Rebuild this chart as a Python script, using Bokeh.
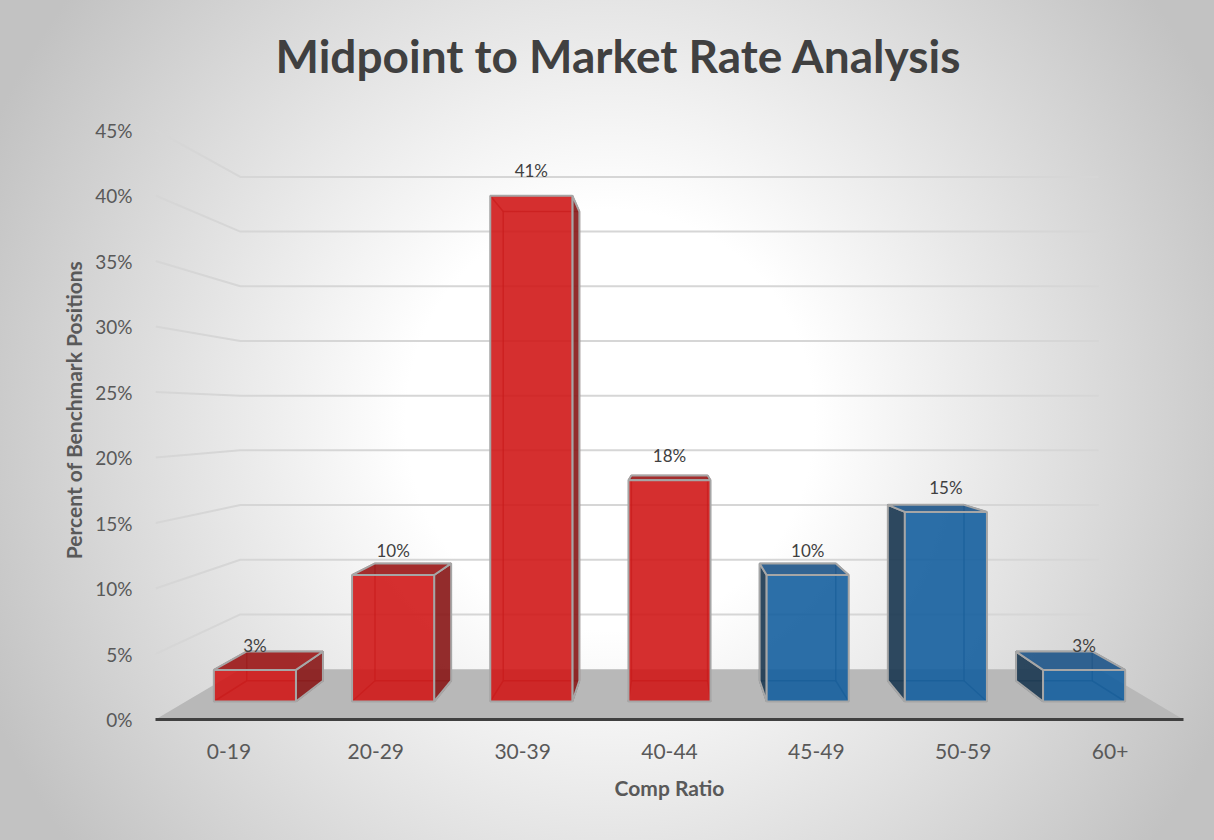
from bokeh.plotting import figure
from bokeh.models import FactorRange, Range1d, FixedTicker, ColumnDataSource
from bokeh.core.properties import value
from bokeh.embed import file_html
from bokeh.resources import INLINE

# ---------------- data ----------------
categories = ["0-19", "20-29", "30-39", "40-44", "45-49", "50-59", "60+"]
percent_values = [2.56, 10.26, 41.03, 17.95, 10.26, 15.38, 2.56]
value_labels = ["3%", "10%", "41%", "18%", "10%", "15%", "3%"]
groups = ["below", "below", "below", "below", "above", "above", "above"]
y_ticks = [0, 5, 10, 15, 20, 25, 30, 35, 40, 45]
title_text = "Midpoint to Market Rate Analysis"
x_title = "Comp Ratio"
y_title = "Percent of Benchmark Positions"

# ---------------- styles ----------------
FONT = "Lato"
face_style = {
    "below": {"front": "#d01818", "side": "#8a1a1a", "top": "#9c1a1a", "edge": "#6a1010"},
    "above": {"front": "#155f9e", "side": "#1c3a52", "top": "#21578a", "edge": "#10304a"},
}

# ---------------- layout / perspective ----------------
FRAME_TOP, FRAME_BOTTOM, TICK_TOP_PX = 100, 719, 129.5
Y_END = max(y_ticks) * (FRAME_BOTTOM - FRAME_TOP) / (FRAME_BOTTOM - TICK_TOP_PX)

N = len(categories)
VX = N / 2.0      # vanishing point x (category units)
VY = 23.3         # vanishing point y (percent units, eye level)
K = 0.1976        # depth foreshortening
BAR_W = 0.594
Z0, Z1 = 0.317, 0.736


def proj(x, y, z):
    s = 1.0 / (1.0 + K * z)
    return VX + (x - VX) * s, VY + (y - VY) * s


def poly(pts):
    xs, ys = [], []
    for (x, y, z) in pts:
        px, py = proj(x, y, z)
        xs.append(px)
        ys.append(py)
    return xs, ys


p = figure(
    width=1214, height=840,
    x_range=FactorRange(*categories, range_padding=0),
    y_range=Range1d(0, Y_END),
    output_backend="svg", toolbar_location=None,
    min_border_left=155, min_border_right=31, min_border_top=FRAME_TOP,
    min_border_bottom=840 - FRAME_BOTTOM,
)
p.styles = {"background": "radial-gradient(680px 700px at 610px 420px, #ffffff 0%, #ffffff 30%, #c2c2c2 100%)"}
p.border_fill_color = None
p.background_fill_color = None
p.outline_line_color = None
p.xgrid.visible = False
p.ygrid.visible = False

# floor
fx, fy = poly([(0, 0, 0), (N, 0, 0), (N, 0, 1), (0, 0, 1)])
p.patch(fx, fy, fill_color="#b8b8b8", line_color=None)

# back wall and side wall grid lines
wall_xs, wall_ys = [], []
for t in y_ticks[1:]:
    bx, by = poly([(0, t, 0), (0, t, 1), (N, t, 1)])
    wall_xs.append(bx)
    wall_ys.append(by)
p.multi_line(wall_xs, wall_ys, line_color="#d6d6d6", line_width=2)

# bars
hid = {"xs": [], "ys": [], "c": []}
front = {"xs": [], "ys": [], "c": []}
side = {"xs": [], "ys": [], "c": []}
top = {"xs": [], "ys": [], "c": []}
lab = {"x": [], "y": [], "t": []}
for i, (v, g, lbl) in enumerate(zip(percent_values, groups, value_labels)):
    st = face_style[g]
    c = i + 0.5
    x0, x1 = c - BAR_W / 2, c + BAR_W / 2
    # hidden edges seen through translucent faces
    for seg in [
        [(x0, 0, Z1), (x0, v, Z1), (x1, v, Z1), (x1, 0, Z1), (x0, 0, Z1)],
        [(x0, v, Z0), (x0, v, Z1)],
        [(x1, v, Z0), (x1, v, Z1)],
        [(x0, 0, Z0), (x0, 0, Z1)],
        [(x1, 0, Z0), (x1, 0, Z1)],
    ]:
        sx, sy = poly(seg)
        hid["xs"].append(sx); hid["ys"].append(sy); hid["c"].append(st["edge"])
    # side face
    if c < VX - 1e-9:
        sx, sy = poly([(x1, 0, Z0), (x1, 0, Z1), (x1, v, Z1), (x1, v, Z0)])
        side["xs"].append(sx); side["ys"].append(sy); side["c"].append(st["side"])
    elif c > VX + 1e-9:
        sx, sy = poly([(x0, 0, Z0), (x0, 0, Z1), (x0, v, Z1), (x0, v, Z0)])
        side["xs"].append(sx); side["ys"].append(sy); side["c"].append(st["side"])
    # top face
    if v < VY:
        sx, sy = poly([(x0, v, Z0), (x1, v, Z0), (x1, v, Z1), (x0, v, Z1)])
        top["xs"].append(sx); top["ys"].append(sy); top["c"].append(st["top"])
    # front face
    sx, sy = poly([(x0, 0, Z0), (x1, 0, Z0), (x1, v, Z0), (x0, v, Z0)])
    front["xs"].append(sx); front["ys"].append(sy); front["c"].append(st["front"])
    lx, ly = proj(c, v, Z0)
    lab["x"].append(lx); lab["y"].append(ly + 1.9); lab["t"].append(lbl)

p.multi_line("xs", "ys", source=ColumnDataSource(hid), line_color="c", line_width=1.5, line_alpha=0.6)
p.patches("xs", "ys", source=ColumnDataSource(side), fill_color="c", fill_alpha=0.92,
          line_color="#a6a6a6", line_width=2)
p.patches("xs", "ys", source=ColumnDataSource(top), fill_color="c", fill_alpha=0.92,
          line_color="#a6a6a6", line_width=2)
p.patches("xs", "ys", source=ColumnDataSource(front), fill_color="c", fill_alpha=0.9,
          line_color="#a6a6a6", line_width=2)
p.text("x", "y", text="t", source=ColumnDataSource(lab), text_align="center",
       text_baseline="alphabetic", text_font=value(FONT), text_font_size="17px",
       text_color="#404040")

# axes
p.xaxis.axis_line_color = "#404040"
p.xaxis.axis_line_width = 3
p.xaxis.major_tick_line_color = None
p.xaxis.minor_tick_line_color = None
p.xaxis.major_label_standoff = 18
p.xaxis.major_label_text_font = FONT
p.xaxis.major_label_text_font_size = "21px"
p.xaxis.major_label_text_color = "#595959"
p.xaxis.axis_label = x_title
p.xaxis.axis_label_text_font = FONT
p.xaxis.axis_label_text_font_style = "bold"
p.xaxis.axis_label_text_font_size = "21px"
p.xaxis.axis_label_text_color = "#595959"
p.xaxis.axis_label_standoff = 13

p.yaxis.ticker = FixedTicker(ticks=y_ticks)
p.yaxis.major_label_overrides = {t: f"{t}%" for t in y_ticks}
p.yaxis.axis_line_color = None
p.yaxis.major_tick_line_color = None
p.yaxis.minor_tick_line_color = None
p.yaxis.major_label_standoff = 17
p.yaxis.major_label_text_font = FONT
p.yaxis.major_label_text_font_size = "19px"
p.yaxis.major_label_text_color = "#595959"
p.yaxis.axis_label = y_title
p.yaxis.axis_label_text_font = FONT
p.yaxis.axis_label_text_font_style = "bold"
p.yaxis.axis_label_text_font_size = "21px"
p.yaxis.axis_label_text_color = "#595959"
p.yaxis.axis_label_standoff = 6

p.title.text = title_text
p.title.align = "left"
p.title.offset = 120
p.title.standoff = 36
p.title.text_font = FONT
p.title.text_font_size = "46px"
p.title.text_font_style = "bold"
p.title.text_color = "#404040"

open("out.html", "w").write(file_html(p, INLINE))
